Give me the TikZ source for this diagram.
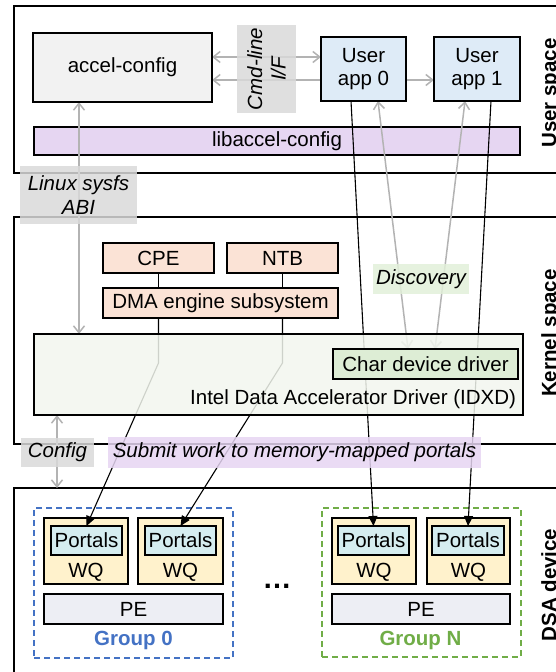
\documentclass[tikz,border=0pt]{standalone}
\usepackage{fontspec}
\setmainfont{Liberation Sans}
\usetikzlibrary{arrows.meta}
\definecolor{arrowgray}{HTML}{B3B3B3}
\definecolor{acfill}{HTML}{F2F2F2}
\definecolor{labgray}{HTML}{D9D9D9}
\definecolor{appblue}{HTML}{DEEBF7}
\definecolor{libpurple}{HTML}{E6D6F2}
\definecolor{salmon}{HTML}{FBE3D6}
\definecolor{idxdfill}{HTML}{F2F6EE}
\definecolor{chargreen}{HTML}{DDEDD5}
\definecolor{discgreen}{HTML}{E2F0D9}
\definecolor{subpurple}{HTML}{E6D5F2}
\definecolor{wqyellow}{HTML}{FFF2CC}
\definecolor{portcyan}{HTML}{D5EDF0}
\definecolor{pegray}{HTML}{EDEEF4}
\definecolor{grpblue}{HTML}{4472C4}
\definecolor{grpgreen}{HTML}{70AD47}
\pgfdeclarelayer{back}
\pgfdeclarelayer{lines}
\pgfsetlayers{back,lines,main}
\begin{document}
\begin{tikzpicture}[x=1pt,y=-1pt,
  every node/.style={inner sep=0pt, outer sep=0pt, font=\fontsize{20.5}{23.5}\selectfont},
  box/.style={draw=black, line width=1.1pt, align=center},
  region/.style={draw=black, line width=2pt},
  lbl/.style={fill opacity=0.85, text opacity=1, align=center, font=\fontsize{20.5}{23.5}\selectfont\itshape},
  gtip/.tip={Straight Barb[length=7pt,width=11pt]},
  garrow/.style={draw=arrowgray, line width=1.5pt},
  blk/.style={draw=black, line width=1.1pt},
  blkarrow/.style={blk, -{Triangle[length=10pt,width=9pt]}},
  grp/.style={line width=1.5pt, dash pattern=on 6pt off 4pt},
  rlabel/.style={rotate=90, anchor=base, font=\fontsize{20.5}{23.5}\selectfont\bfseries},
  glabel/.style={font=\fontsize{20.5}{23.5}\selectfont\bfseries},
]
\useasboundingbox (0,0) rectangle (555,672);

\begin{pgfonlayer}{back}
  \node[region, minimum width=556pt, minimum height=167pt] (user) at (292,89.5) {};
  \node[region, minimum width=556pt, minimum height=227pt] (kernel) at (292,330.5) {};
  \node[region, minimum width=556pt, minimum height=202pt] (dsa) at (292,589) {};
  \node[box, fill=libpurple, minimum width=486pt, minimum height=28pt] (lib) at (277,141) {libaccel-config};
  % groups
  \node[grp, draw=grpblue, minimum width=199pt, minimum height=150pt] (g0) at (133.5,583) {};
  \node[grp, draw=grpgreen, minimum width=199pt, minimum height=149pt] (gN) at (421.5,582.5) {};
  \node[box, fill=wqyellow, minimum width=84pt, minimum height=66pt] (w00) at (86,551) {};
  \node[box, fill=wqyellow, minimum width=85pt, minimum height=66pt] (w01) at (180.5,551) {};
  \node[box, fill=wqyellow, minimum width=84pt, minimum height=66pt] (wN0) at (374,551) {};
  \node[box, fill=wqyellow, minimum width=83pt, minimum height=66pt] (wN1) at (468.5,551) {};
  \node[box, fill=portcyan, minimum width=71pt, minimum height=29pt] (p00) at (86.5,540.5) {Portals};
  \node[box, fill=portcyan, minimum width=71pt, minimum height=29pt] (p01) at (180.5,540.5) {Portals};
  \node[box, fill=portcyan, minimum width=71pt, minimum height=29pt] (pN0) at (373.5,540.5) {Portals};
  \node[box, fill=portcyan, minimum width=72pt, minimum height=29pt] (pN1) at (468,540.5) {Portals};
  \node (q00) at (86,572) {WQ};
  \node (q01) at (180.5,572) {WQ};
  \node (qN0) at (374,572) {WQ};
  \node (qN1) at (468.5,572) {WQ};
  \node[box, fill=pegray, minimum width=179pt, minimum height=30pt] (pe0) at (133.5,609) {PE};
  \node[box, fill=pegray, minimum width=178pt, minimum height=30pt] (peN) at (421,609) {PE};
  \node[glabel, text=grpblue] (g0t) at (133.5,640) {Group 0};
  \node[glabel, text=grpgreen] (gNt) at (420.5,640) {Group N};
  \node[font=\fontsize{29}{30}\selectfont\bfseries] (dots) at (277,586) {…};
\end{pgfonlayer}

% user space
\node[box, fill=acfill, minimum width=179pt, minimum height=69pt] (accel) at (122.5,67.5) {accel-config};
\node[lbl, fill=labgray, rotate=90, minimum width=88pt, minimum height=59pt] (cmd) at (266.5,69) {Cmd-line\\I/F};
\node[box, fill=appblue, minimum width=85pt, minimum height=64pt] (app0) at (363.5,69) {User\\app 0};
\node[box, fill=appblue, minimum width=86pt, minimum height=64pt] (app1) at (477,69) {User\\app 1};
\node[lbl, fill=labgray, minimum width=117pt, minimum height=58pt] (sysfs) at (78.5,195) {Linux sysfs\\ABI};

% kernel space
\node[box, fill=salmon, minimum width=111pt, minimum height=30pt] (cpe) at (158.5,258) {CPE};
\node[box, fill=salmon, minimum width=111pt, minimum height=30pt] (ntb) at (282.5,258) {NTB};
\node[box, fill=salmon, minimum width=235pt, minimum height=30pt] (dma) at (220.5,303) {DMA engine subsystem};
\node[lbl, fill=discgreen, minimum width=96pt, minimum height=30pt] (disc) at (421,279) {Discovery};
\node[box, fill=idxdfill, fill opacity=0.85, minimum width=489pt, minimum height=81pt] (idxd) at (278.5,374.5) {};
\node[box, fill=chargreen, minimum width=185pt, minimum height=30pt] (chardev) at (425.5,364) {Char device driver};
\node[anchor=base east] (idxdtxt) at (516,404) {Intel Data Accelerator Driver (IDXD)};
\node[lbl, fill=labgray, minimum width=73pt, minimum height=29pt] (cfg) at (57.5,452.5) {Config};
\node[lbl, fill=subpurple, minimum width=373pt, minimum height=31pt] (submit) at (294.5,452.5) {Submit work to memory-mapped portals};

% region labels
\node[rlabel] (ul) at (556,93) {User space};
\node[rlabel] (kl) at (556,333) {Kernel space};
\node[rlabel] (dl) at (556,585) {DSA device};

\coordinate (yA) at (0,57);
\coordinate (yB) at (0,80);
\coordinate (xS) at (79,0);
\coordinate (xC) at (57,0);

\begin{pgfonlayer}{lines}
  \draw[garrow, gtip-gtip] (accel.east |- yA) -- (app0.west |- yA);
  \draw[garrow, -gtip] (app0.west |- yB) -- (accel.east |- yB);
  \draw[garrow, -gtip] (app0.east |- yB) -- (app1.west |- yB);
  \draw[garrow, gtip-gtip] (accel.south -| xS) -- (idxd.north -| xS);
  \draw[garrow, gtip-gtip] (idxd.south -| xC) -- (dsa.north -| xC);
  \draw[garrow, gtip-gtip] ([xshift=14.5pt]app0.south) -- ([xshift=-17.5pt]chardev.north);
  \draw[garrow, gtip-gtip] ([xshift=-12pt]app1.south) -- ([xshift=9.5pt]chardev.north);
  \draw[blkarrow] ([xshift=-12.5pt]app0.south) -- (pN0.north);
  \draw[blkarrow] ([xshift=14pt]app1.south) -- (pN1.north);
  \draw[blk] (cpe.south) -- (cpe.south |- dma.north);
  \draw[blk] (ntb.south) -- (ntb.south |- dma.north);
  \draw[blkarrow] (dma.south -| cpe.south) -- ++(0,45) -- (p00.north);
  \draw[blkarrow] (dma.south -| ntb.south) -- ++(0,45) -- (p01.north);
\end{pgfonlayer}
\end{tikzpicture}
\end{document}
